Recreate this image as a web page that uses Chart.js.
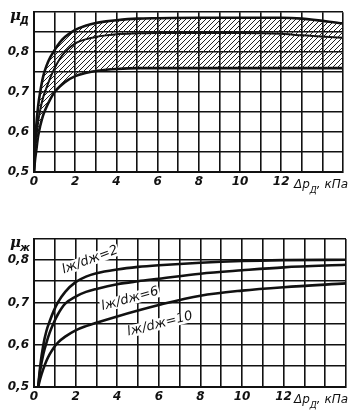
<!DOCTYPE html>
<html>
<head>
<meta charset="utf-8">
<script src="https://cdn.jsdelivr.net/npm/chart.js@4/dist/chart.umd.min.js"></script>
<style>
  body { margin: 0; background: #fff; }
  #wrap { position: relative; width: 362px; height: 415px; }
  canvas { position: absolute; left: 0; }
  #topChart { top: 0; }
  #bottomChart { top: 200px; }
</style>
</head>
<body>
<div id="wrap">
  <canvas id="topChart" width="362" height="200"></canvas>
  <canvas id="bottomChart" width="362" height="215"></canvas>
</div>
<script>
// top chart: mu_D band vs pressure drop
const xTop = [0, 0.05, 0.1, 0.2, 0.3, 0.45, 0.6, 0.8, 1, 1.25, 1.5, 2, 2.5, 3, 3.5, 4, 5, 6, 8, 10, 12, 13, 15];
const muUpper  = [0.5, 0.57, 0.61, 0.665, 0.70, 0.74, 0.765, 0.788, 0.805, 0.824, 0.838, 0.856, 0.866, 0.873, 0.877, 0.88, 0.884, 0.885, 0.886, 0.886, 0.886, 0.884, 0.872];
const muMiddle = [0.5, 0.55, 0.58, 0.625, 0.655, 0.688, 0.71, 0.737, 0.76, 0.783, 0.80, 0.822, 0.832, 0.838, 0.842, 0.845, 0.847, 0.848, 0.848, 0.848, 0.846, 0.842, 0.836];
const muLower  = [0.5, 0.53, 0.55, 0.59, 0.615, 0.643, 0.662, 0.683, 0.70, 0.714, 0.725, 0.74, 0.748, 0.753, 0.756, 0.758, 0.76, 0.76, 0.76, 0.76, 0.76, 0.76, 0.76];

// bottom chart: mu_zh for l/d = 2, 6, 10
const xBottom = [0.2, 0.3, 0.45, 0.6, 0.75, 0.95, 1.15, 1.5, 2, 2.5, 3, 4, 5, 6, 8, 10, 12, 15];
const muLd2  = [0.5, 0.55, 0.6, 0.633, 0.655, 0.68, 0.70, 0.725, 0.748, 0.761, 0.769, 0.778, 0.784, 0.788, 0.794, 0.798, 0.80, 0.801];
const muLd6  = [0.5, 0.54, 0.578, 0.605, 0.628, 0.652, 0.672, 0.697, 0.714, 0.725, 0.732, 0.743, 0.75, 0.756, 0.768, 0.776, 0.783, 0.789];
const muLd10 = [0.5, 0.52, 0.543, 0.562, 0.577, 0.593, 0.605, 0.619, 0.634, 0.644, 0.652, 0.667, 0.681, 0.694, 0.716, 0.728, 0.736, 0.745];
const curveLabels = ['lж/dж=2', 'lж/dж=6', 'lж/dж=10'];

const xTicksShown = [0, 2, 4, 6, 8, 10, 12];
const yTicksShown = [50, 60, 70, 80];

const tickFont = { family: '"Liberation Sans Narrow", "DejaVu Sans", sans-serif', size: 12, style: 'italic', weight: 'bold' };
const ink = '#111';

function pts(xs, ys) {
  return xs.map((x, i) => ({ x: x, y: ys[i] }));
}

function hatch() {
  const c = document.createElement('canvas');
  c.width = 5; c.height = 5;
  const g = c.getContext('2d');
  g.strokeStyle = '#222';
  g.lineWidth = 1;
  g.beginPath();
  g.moveTo(0, 5); g.lineTo(5, 0);
  g.moveTo(-1, 1); g.lineTo(1, -1);
  g.moveTo(4, 6); g.lineTo(6, 4);
  g.stroke();
  return g.createPattern(c, 'repeat');
}

function scales(yMax, xH) {
  return {
    x: {
      type: 'linear', min: 0, max: 15,
      afterFit: s => { s.height = xH; },
      afterBuildTicks: s => { s.ticks = []; for (let i = 0; i <= 15; i++) s.ticks.push({ value: i }); },
      ticks: {
        autoSkip: false, maxRotation: 0, padding: 3, color: ink, font: tickFont,
        callback: v => xTicksShown.includes(v) ? String(v) : ''
      },
      grid: { color: ink, lineWidth: 1.6, drawTicks: false },
      border: { color: ink, width: 2 }
    },
    y: {
      type: 'linear', min: 0.5, max: yMax,
      afterFit: s => { s.width = 34; },
      afterBuildTicks: s => {
        s.ticks = [];
        for (let v = 50; v <= Math.round(yMax * 100); v += 5) s.ticks.push({ value: v / 100 });
      },
      ticks: {
        autoSkip: false, padding: 5, color: ink, font: tickFont,
        callback: v => yTicksShown.includes(Math.round(v * 100)) ? v.toFixed(1).replace('.', ',') : ''
      },
      grid: { color: ink, lineWidth: 1.6, drawTicks: false },
      border: { color: ink, width: 2 }
    }
  };
}

function lineDs(data, extra) {
  return Object.assign({
    data: data, borderColor: ink, borderWidth: 2.6, pointRadius: 0,
    cubicInterpolationMode: 'monotone', fill: false
  }, extra || {});
}

// draws the axis names (mu and delta p) as text
function axisNames(muSub) {
  return {
    id: 'axisNames',
    afterDraw(chart) {
      const ctx = chart.ctx;
      const a = chart.chartArea;
      ctx.save();
      ctx.fillStyle = ink;
      ctx.textBaseline = 'alphabetic';
      ctx.font = 'italic bold 15px "DejaVu Serif", serif';
      ctx.fillText('μ', 10, a.top + 8);
      ctx.font = 'italic bold 10px "DejaVu Sans", sans-serif';
      ctx.fillText(muSub, 20, a.top + 12);
      const y = a.bottom + 16;
      let x = 294;
      ctx.font = 'italic 12px "Liberation Sans Narrow", "DejaVu Sans", sans-serif';
      ctx.fillText('Δp', x, y);
      x += ctx.measureText('Δp').width;
      ctx.font = 'italic 9px "DejaVu Sans", sans-serif';
      ctx.fillText('Д', x, y + 5);
      x += ctx.measureText('Д').width;
      ctx.font = 'italic 12px "Liberation Sans Narrow", "DejaVu Sans", sans-serif';
      ctx.fillText(', кПа', x, y);
      ctx.restore();
    }
  };
}

new Chart(document.getElementById('topChart'), {
  type: 'line',
  data: {
    datasets: [
      lineDs(pts(xTop, muUpper), { fill: { target: 2 }, backgroundColor: hatch() }),
      lineDs(pts(xTop, muMiddle), { borderWidth: 2 }),
      lineDs(pts(xTop, muLower))
    ]
  },
  options: {
    responsive: false, animation: false,
    layout: { padding: { top: 7, right: 19, left: 0, bottom: 0 } },
    plugins: { legend: { display: false }, tooltip: { enabled: false } },
    scales: scales(0.9, 28)
  },
  plugins: [axisNames('Д')]
});

// curve labels written along the curves
const curveText = {
  id: 'curveText',
  afterDatasetsDraw(chart) {
    const ctx = chart.ctx;
    const spots = [[90, 60, -0.36], [130, 99, -0.27], [160, 124, -0.25]];
    ctx.save();
    ctx.fillStyle = ink;
    ctx.font = 'italic 13px "Liberation Sans Narrow", "DejaVu Sans", sans-serif';
    ctx.textAlign = 'center';
    ctx.textBaseline = 'middle';
    curveLabels.forEach((t, i) => {
      const s = spots[i];
      ctx.save();
      ctx.translate(s[0], s[1]);
      ctx.rotate(s[2]);
      ctx.fillStyle = '#fff';
      const w = ctx.measureText(t).width;
      ctx.fillRect(-w / 2 - 1, -6, w + 2, 12);
      ctx.fillStyle = ink;
      ctx.fillText(t, 0, 0);
      ctx.restore();
    });
    ctx.restore();
  }
};

new Chart(document.getElementById('bottomChart'), {
  type: 'line',
  data: {
    datasets: [
      lineDs(pts(xBottom, muLd2)),
      lineDs(pts(xBottom, muLd6)),
      lineDs(pts(xBottom, muLd10))
    ]
  },
  options: {
    responsive: false, animation: false,
    layout: { padding: { top: 39, right: 16, left: 0, bottom: 0 } },
    plugins: { legend: { display: false }, tooltip: { enabled: false } },
    scales: scales(0.85, 28)
  },
  plugins: [axisNames('ж'), curveText]
});
</script>
</body>
</html>
